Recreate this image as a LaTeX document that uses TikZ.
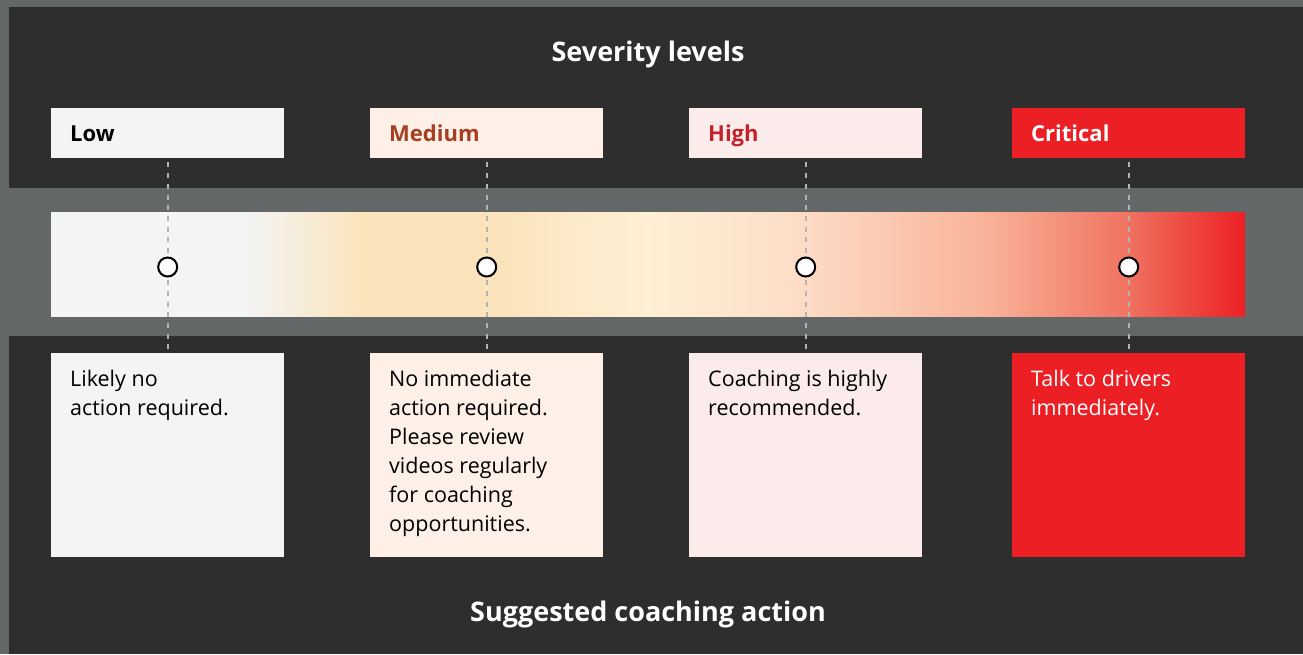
\documentclass[tikz,border=0pt]{standalone}
\usepackage{fontspec}
\setmainfont{Open Sans}
\usetikzlibrary{positioning}

\definecolor{bggray}{HTML}{636768}
\definecolor{panel}{HTML}{2E2E2E}
\definecolor{lowfill}{HTML}{F3F4F5}
\definecolor{medfill}{HTML}{FEF0E7}
\definecolor{highfill}{HTML}{FCEBEB}
\definecolor{critfill}{HTML}{EC1F24}
\definecolor{medtext}{HTML}{A53F1F}
\definecolor{hightext}{HTML}{C4222B}
\definecolor{guidegray}{HTML}{B3B3B3}
\definecolor{medyel}{HTML}{FBE4BC}
\definecolor{creamy}{HTML}{FEF0D5}
\definecolor{peachA}{HTML}{FDDEC8}
\definecolor{peachB}{HTML}{F9B49A}
\definecolor{salmon}{HTML}{F07462}

% bar shading, path maps onto 25bp..75bp
\pgfdeclarehorizontalshading{sevbar}{100bp}{color(0bp)=(lowfill); color(25bp)=(lowfill);
  color(33bp)=(lowfill); color(38bp)=(medyel); color(44bp)=(medyel); color(50bp)=(creamy);
  color(56bp)=(peachA); color(64bp)=(peachB); color(70bp)=(salmon); color(75bp)=(critfill);
  color(100bp)=(critfill)}

\tikzset{
  headbox/.style={anchor=north west, minimum width=233pt, minimum height=50pt,
    inner xsep=19pt, inner ysep=0pt, text width=195pt, align=left,
    text height=19pt, text depth=2pt,
    font=\fontsize{22}{26}\selectfont\bfseries},
  bodybox/.style={anchor=north west, minimum width=233pt, minimum height=204pt,
    inner xsep=19pt, inner ysep=0pt, font=\fontsize{21.5}{29}\selectfont},
  guide/.style={guidegray, line width=1.7pt, dash pattern=on 5pt off 5.7pt,
    shorten <=4pt, shorten >=4pt},
  dot/.style={circle, draw=black, fill=white, line width=2pt, minimum size=19pt, inner sep=0pt},
  caption/.style={white, text height=20pt, text depth=6pt,
    font=\fontsize{27}{32}\selectfont\bfseries}
}

\newcommand{\bodytext}[1]{\parbox[c][204pt][t]{195pt}{\raggedright\rule{0pt}{33pt}#1}}

\begin{document}
\begin{tikzpicture}[x=1pt, y=-1pt]
  \useasboundingbox (0,0) rectangle (1303,654);
  % backdrop
  \fill[bggray] (0,0) rectangle (1303,654);
  \fill[panel] (9,7) rectangle (1303,188);
  \fill[panel] (9,336) rectangle (1303,654);
  \shade[shading=sevbar] (51,212) rectangle (1245,316);

  \node[caption] (title) at (648,54) {Severity levels};
  \node[caption] (footer) at (648,614) {Suggested coaching action};

  % severity headers
  \node[headbox, fill=lowfill, text=black] (lowhead) at (51,108) {Low};
  \node[headbox, fill=medfill, text=medtext] (medhead) at (370,108) {Medium};
  \node[headbox, fill=highfill, text=hightext] (highhead) at (689,108) {High};
  \node[headbox, fill=critfill, text=white] (crithead) at (1012,108) {Critical};

  % coaching actions
  \node[bodybox, fill=lowfill, text=black] (lowbody) at (51,353)
    {\bodytext{Likely no\\action required.}};
  \node[bodybox, fill=medfill, text=black] (medbody) at (370,353)
    {\bodytext{No immediate\\action required.\\Please review\\videos regularly\\for coaching\\opportunities.}};
  \node[bodybox, fill=highfill, text=black] (highbody) at (689,353)
    {\bodytext{Coaching is highly\\recommended.}};
  \node[bodybox, fill=critfill, text=white] (critbody) at (1012,353)
    {\bodytext{Talk to drivers\\immediately.}};

  \draw[guide] (lowhead.south) -- (lowbody.north);
  \draw[guide] (medhead.south) -- (medbody.north);
  \draw[guide] (highhead.south) -- (highbody.north);
  \draw[guide] (crithead.south) -- (critbody.north);

  \node[dot] (lowdot) at (lowhead.south |- 0,267) {};
  \node[dot] (meddot) at (medhead.south |- 0,267) {};
  \node[dot] (highdot) at (highhead.south |- 0,267) {};
  \node[dot] (critdot) at (crithead.south |- 0,267) {};
\end{tikzpicture}
\end{document}
